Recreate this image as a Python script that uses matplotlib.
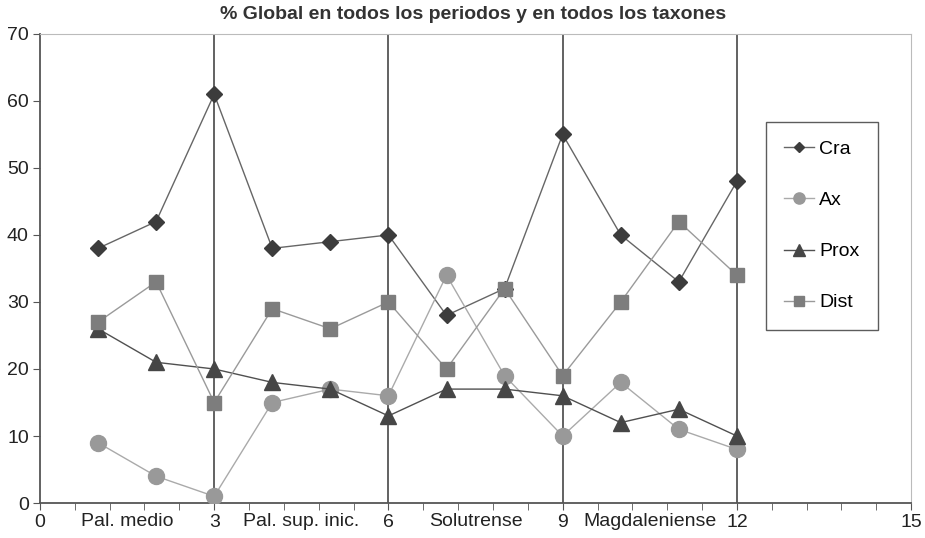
import matplotlib
matplotlib.use("Agg")
import matplotlib.pyplot as plt
import numpy as np

plt.rcParams['font.family'] = ['Liberation Sans', 'DejaVu Sans']

x = list(range(1, 13))
cra = [38, 42, 61, 38, 39, 40, 28, 32, 55, 40, 33, 48]
ax_vals = [9, 4, 1, 15, 17, 16, 34, 19, 10, 18, 11, 8]
prox = [26, 21, 20, 18, 17, 13, 17, 17, 16, 12, 14, 10]
dist = [27, 33, 15, 29, 26, 30, 20, 32, 19, 30, 42, 34]

period_bounds = [3, 6, 9, 12]
period_names = ["Pal. medio", "Pal. sup. inic.", "Solutrense", "Magdaleniense"]
period_centers = [1.5, 4.5, 7.5, 10.5]

fig = plt.figure(figsize=(9.25, 5.38), dpi=100)
ax = fig.add_axes([0.0432, 0.065, 0.9418, 0.872])

for b in period_bounds:
    ax.axvline(b, color='#555555', lw=1.3, zorder=1)

ax.plot(x, cra, color='#666666', lw=1.0, marker='D', ms=8, mfc='#3c3c3c', mec='#3c3c3c', label='Cra', zorder=3)
ax.plot(x, ax_vals, color='#aaaaaa', lw=1.0, marker='o', ms=11.5, mfc='#999999', mec='#999999', label='Ax', zorder=3)
ax.plot(x, prox, color='#505050', lw=1.0, marker='^', ms=11.5, mfc='#464646', mec='#464646', label='Prox', zorder=3)
ax.plot(x, dist, color='#9a9a9a', lw=1.0, marker='s', ms=10, mfc='#7d7d7d', mec='#7d7d7d', label='Dist', zorder=3)

ax.set_xlim(0, 15)
ax.set_ylim(0, 70)
ax.set_yticks(range(0, 71, 10))
ax.set_xticks(np.arange(0, 15.01, 0.6), minor=True)
ax.set_xticks([0, 3, 6, 9, 12, 15])
ax.tick_params(axis='x', which='both', length=5, color='#555555', labelsize=14, pad=3)
ax.tick_params(axis='y', length=5, color='#555555', labelsize=14, pad=3)
for lbl in ax.get_xticklabels() + ax.get_yticklabels():
    lbl.set_color('#222222')

for c, name in zip(period_centers, period_names):
    ax.text(c, -0.022, name, transform=ax.get_xaxis_transform(), ha='center', va='top',
            fontsize=14, color='#222222')

ax.spines['left'].set_color('#555555')
ax.spines['bottom'].set_color('#555555')
ax.spines['left'].set_linewidth(1.3)
ax.spines['bottom'].set_linewidth(1.3)
ax.spines['top'].set_color('#bbbbbb')
ax.spines['right'].set_color('#bbbbbb')

fig.text(0.511, 0.988, "% Global en todos los periodos y en todos los taxones", ha='center', va='top',
         fontsize=14, fontweight='bold', color='#333333')

leg = fig.legend(loc='upper left', bbox_to_anchor=(0.828, 0.773), frameon=True, fancybox=False,
                 fontsize=14, labelspacing=1.72, handlelength=1.5, handletextpad=0.3,
                 borderpad=0.95, borderaxespad=0, markerscale=0.7)
leg.get_frame().set_edgecolor('#333333')
leg.get_frame().set_linewidth(1.0)

fig.savefig("out.png", dpi=100)
